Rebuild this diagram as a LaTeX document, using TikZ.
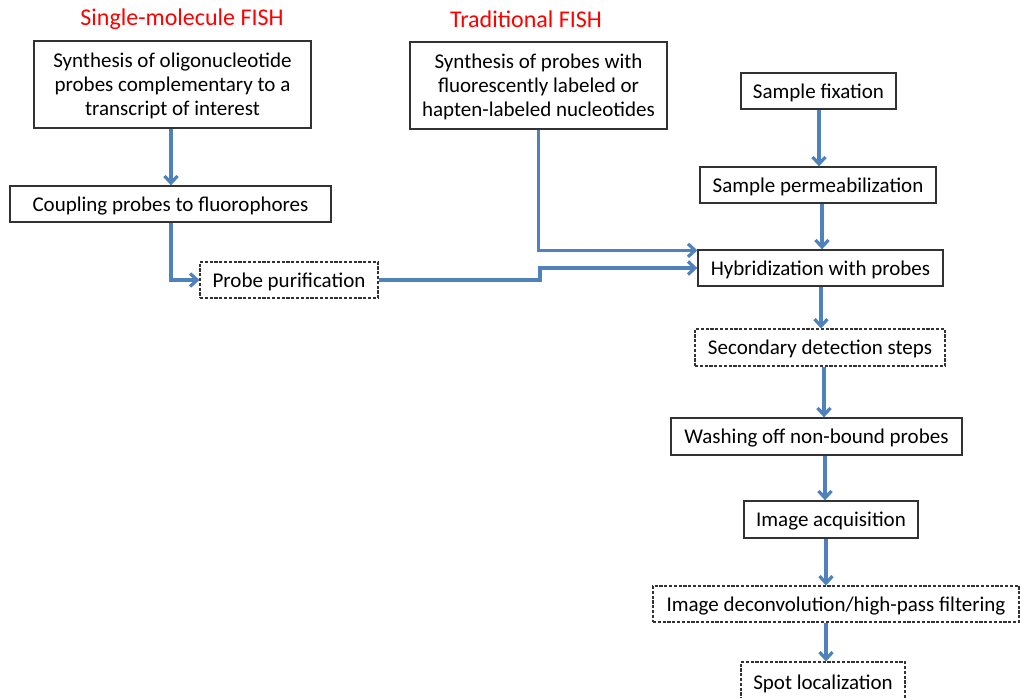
\documentclass[tikz,border=0pt]{standalone}
\usepackage{fontspec}
\setmainfont{Carlito}
\usetikzlibrary{arrows.meta}
\definecolor{flowblue}{RGB}{79,129,189}
\definecolor{boxline}{RGB}{50,50,50}
\tikzset{
  stepbox/.style={draw=boxline, line width=1.3pt, rectangle, inner sep=0pt, align=center,
    text depth=0pt, font=\fontsize{21}{24}\selectfont},
  optbox/.style={stepbox, line width=1.1pt, dash pattern=on 3.2pt off 1.6pt},
  title/.style={text=red, font=\fontsize{24}{28}\selectfont, inner sep=0pt},
  arr/.style={draw=flowblue, line width=3.2pt, -{Straight Barb[length=7pt,width=13pt]}},
}
\begin{document}
\begin{tikzpicture}[x=1pt,y=-1pt]
\clip (0,0) rectangle (1021,698);
\fill[white] (0,0) rectangle (1021,698);

\node[title] (t1) at (182,19.5) {Single-molecule FISH};
\node[title] (t2) at (526,19.5) {Traditional FISH};

\node[stepbox, minimum width=277pt, minimum height=87pt] (A) at (172.5,84.5)
  {Synthesis of oligonucleotide\\probes complementary to a\\transcript of interest};
\node[stepbox, minimum width=321pt, minimum height=36pt] (B) at (170.5,204) {Coupling probes to fluorophores};
\node[optbox, minimum width=178pt, minimum height=36pt] (C) at (289,280) {Probe purification};
\node[stepbox, minimum width=257pt, minimum height=87pt] (D) at (538.5,85.5)
  {Synthesis of probes with\\fluorescently labeled or\\hapten-labeled nucleotides};
\node[stepbox, minimum width=155pt, minimum height=36pt] (E) at (818.5,91) {Sample fixation};
\node[stepbox, minimum width=236pt, minimum height=36pt] (F) at (818,185) {Sample permeabilization};
\node[stepbox, minimum width=245pt, minimum height=36pt] (G) at (820.5,268) {Hybridization with probes};
\node[optbox, minimum width=250pt, minimum height=37pt] (H) at (820,347.5) {Secondary detection steps};
\node[stepbox, minimum width=291pt, minimum height=37pt] (I) at (816.5,436.5) {Washing off non-bound probes};
\node[stepbox, minimum width=174pt, minimum height=37pt] (J) at (831,519.5) {Image acquisition};
\node[optbox, minimum width=366pt, minimum height=36pt] (K) at (836,604) {Image deconvolution/high-pass filtering};
\node[optbox, minimum width=164pt, minimum height=40pt] (L) at (823,682) {Spot localization};

% columns for vertical arrows
\coordinate (xa) at (171,0);
\coordinate (x1) at (819,0);
\coordinate (x2) at (822,0);
\coordinate (x3) at (821,0);
\coordinate (x4) at (824,0);
\coordinate (x5) at (825,0);
\coordinate (x6) at (826,0);
\coordinate (x7) at (826,0);
\coordinate (xj) at (540,0);

\draw[arr] (A.south -| xa) -- (B.north -| xa);
\draw[arr] (B.south -| xa) |- (C.west);
\draw[arr] (C.east) -- (C.east -| xj) -- (G.west -| xj) -- (G.west);
\draw[arr] (D.south) |- ([yshift=-1pt]G.north west);

\draw[arr] (E.south -| x1) -- (F.north -| x1);
\draw[arr] (F.south -| x2) -- (G.north -| x2);
\draw[arr] (G.south -| x3) -- (H.north -| x3);
\draw[arr] (H.south -| x4) -- (I.north -| x4);
\draw[arr] (I.south -| x5) -- (J.north -| x5);
\draw[arr] (J.south -| x6) -- (K.north -| x6);
\draw[arr] (K.south -| x7) -- (L.north -| x7);
\end{tikzpicture}
\end{document}
